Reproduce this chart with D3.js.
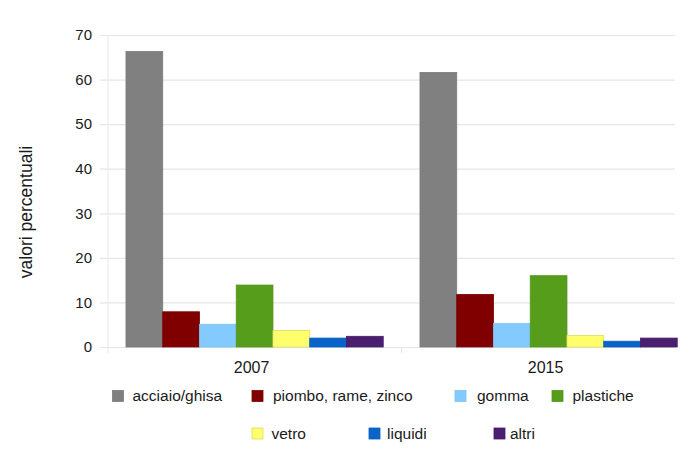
<!DOCTYPE html>
<html>
<head>
<meta charset="utf-8">
<script src="https://cdn.jsdelivr.net/npm/d3@7"></script>
<style>
  html, body { margin: 0; padding: 0; background: #fff; }
  svg { display: block; font-family: "Liberation Sans", Arial, sans-serif; }
</style>
</head>
<body>
<svg id="chart" width="690" height="460"></svg>
<script>
// Categories (years) and material series, percent values
const years = ["2007", "2015"];
const materials = ["acciaio/ghisa", "piombo, rame, zinco", "gomma", "plastiche", "vetro", "liquidi", "altri"];
const acciaio   = [66.3, 61.6];
const piombo    = [7.9, 11.8];
const gomma     = [5.1, 5.3];
const plastiche = [13.9, 16.0];
const vetro     = [3.7, 2.6];
const liquidi   = [2.0, 1.3];
const altri     = [2.4, 2.0];
const yTicks = [0, 10, 20, 30, 40, 50, 60, 70];
const yTitle = "valori percentuali";

const seriesValues = [acciaio, piombo, gomma, plastiche, vetro, liquidi, altri];
const colors = ["#808080", "#800000", "#83caff", "#579d1c", "#ffff6e", "#0a63c9", "#4b1f6f"];
const strokes = ["#7a7a7a", "#7a0000", "#7dc2f5", "#53961a", "#dede5a", "#0a5cbc", "#461c69"];

const svg = d3.select("#chart");
const plotLeft = 100, plotRight = 675, plotTop = 35, plotBottom = 347;

const y = d3.scaleLinear().domain([0, 70]).range([plotBottom, plotTop]);
const x0 = d3.scaleBand().domain(years).range([107.6, 695.6]).padding(0);
const x1 = d3.scaleBand().domain(materials).range([0, x0.bandwidth()])
  .paddingInner(0).paddingOuter(0.5);

// Horizontal gridlines with value labels
const yAxis = svg.append("g")
  .attr("transform", `translate(${plotLeft},0)`)
  .call(d3.axisLeft(y).tickValues(yTicks).tickSize(-(plotRight - plotLeft)).tickPadding(8).tickFormat(d3.format("d")));
yAxis.select(".domain").remove();
yAxis.selectAll(".tick line").attr("stroke", "#e6e6e6").attr("stroke-width", 1.2);
yAxis.selectAll(".tick text").attr("fill", "#1a1a1a").style("font-size", "15px");

// Vertical axis line and category separators
svg.append("line")
  .attr("x1", 108).attr("x2", 108).attr("y1", plotTop).attr("y2", plotBottom + 6)
  .attr("stroke", "#ececec").attr("stroke-width", 1.2);
svg.append("g").selectAll("line")
  .data(years.slice(1))
  .join("line")
  .attr("x1", d => x0(d)).attr("x2", d => x0(d))
  .attr("y1", plotBottom).attr("y2", plotBottom + 6)
  .attr("stroke", "#e6e6e6").attr("stroke-width", 1.2);

// Bars
const groups = svg.append("g").selectAll("g")
  .data(years)
  .join("g")
  .attr("transform", d => `translate(${x0(d)},0)`);

groups.selectAll("rect")
  .data((yr, yi) => materials.map((m, mi) => ({ m, mi, v: seriesValues[mi][yi] })))
  .join("rect")
  .attr("x", d => x1(d.m))
  .attr("width", x1.bandwidth())
  .attr("y", d => y(d.v))
  .attr("height", d => y(0) - y(d.v))
  .attr("fill", d => colors[d.mi])
  .attr("stroke", d => strokes[d.mi])
  .attr("stroke-width", 0.8);

// Year labels
svg.append("g").selectAll("text")
  .data(years)
  .join("text")
  .attr("x", d => x0(d) + x0.bandwidth() / 2 - 3)
  .attr("y", 373)
  .attr("text-anchor", "middle")
  .attr("fill", "#1a1a1a")
  .style("font-size", "16px")
  .text(d => d);

// Y axis title
svg.append("text")
  .attr("transform", "translate(32,212) rotate(-90)")
  .attr("text-anchor", "middle")
  .attr("fill", "#1a1a1a")
  .style("font-size", "17.5px")
  .text(yTitle);

// Legend, two rows
const legendLayout = [
  { sx: 112.5, tx: 132.5, cy: 396 },
  { sx: 252,   tx: 273,   cy: 396 },
  { sx: 455,   tx: 477,   cy: 396 },
  { sx: 552,   tx: 572.5, cy: 396 },
  { sx: 252,   tx: 271.5, cy: 433.5 },
  { sx: 369,   tx: 387,   cy: 433.5 },
  { sx: 494,   tx: 510,   cy: 433.5 }
];
const legend = svg.append("g").selectAll("g")
  .data(materials)
  .join("g");
legend.append("rect")
  .attr("x", (d, i) => legendLayout[i].sx)
  .attr("y", (d, i) => legendLayout[i].cy - 5.5)
  .attr("width", 11).attr("height", 11)
  .attr("fill", (d, i) => colors[i])
  .attr("stroke", (d, i) => strokes[i])
  .attr("stroke-width", 0.8);
legend.append("text")
  .attr("x", (d, i) => legendLayout[i].tx)
  .attr("y", (d, i) => legendLayout[i].cy)
  .attr("dy", "0.35em")
  .attr("fill", "#1a1a1a")
  .style("font-size", "15.5px")
  .text(d => d);
</script>
</body>
</html>
